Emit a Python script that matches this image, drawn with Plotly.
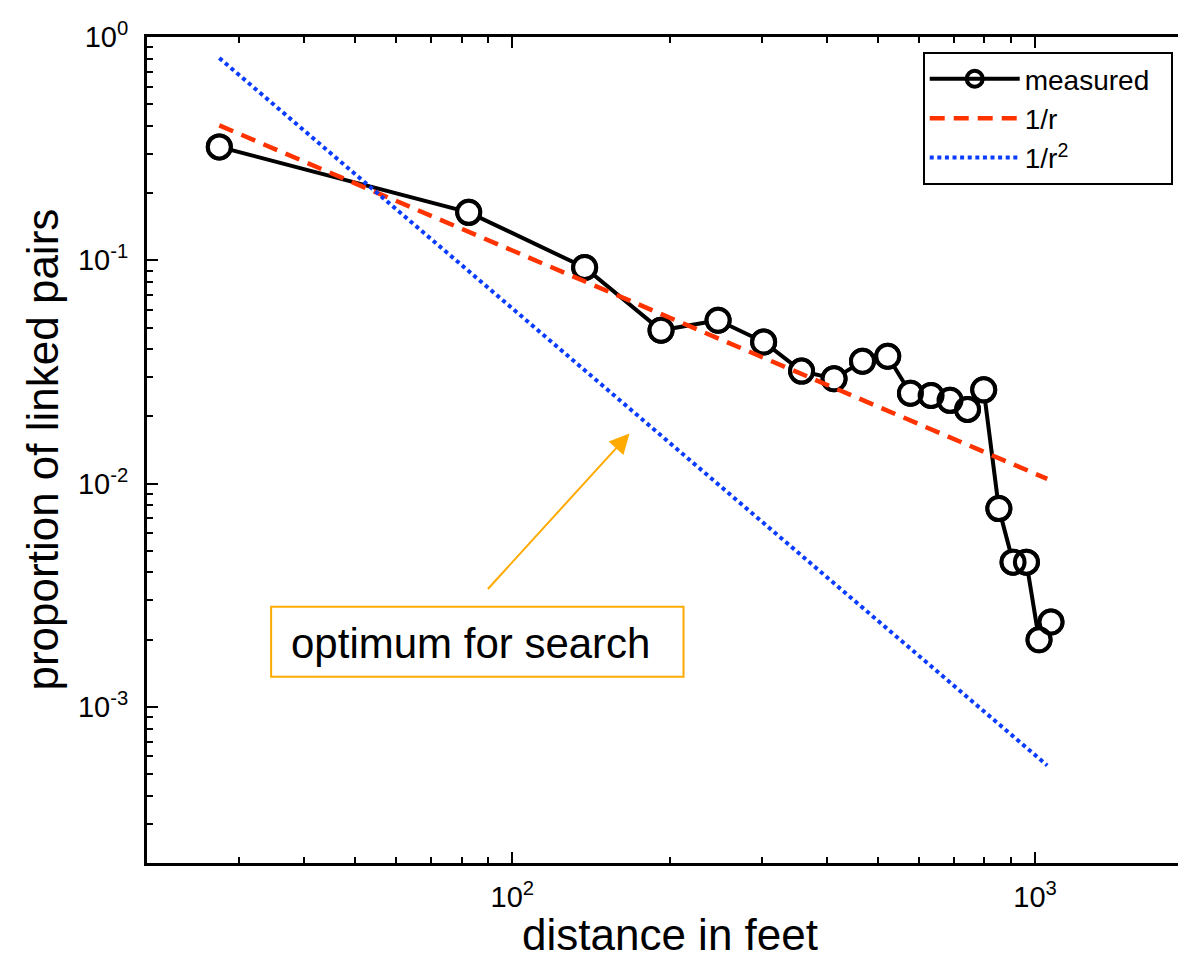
import math
import plotly.graph_objects as go

# Measured link proportion per 55-ft distance bin
distance_ft = [27.5, 82.5, 137.5, 192.5, 247.5, 302.5, 357.5, 412.5, 467.5, 522.5,
               577.5, 632.5, 687.5, 742.5, 797.5, 852.5, 907.5, 962.5, 1017.5, 1072.5]
proportion_linked = [0.322, 0.164, 0.0928, 0.0486, 0.0539, 0.0431, 0.0319, 0.0295, 0.0353, 0.0372,
                     0.0254, 0.0248, 0.0236, 0.0215, 0.0263, 0.00773, 0.00445, 0.00445, 0.00200, 0.00240]

# Reference power laws (end points of each straight line on log-log axes)
fit_distance = [27.5, 1055]
fit_inv_r = [0.402, 0.0105]
fit_inv_r2 = [0.805, 0.000547]

# Tick labels
x_major = [100, 1000]
x_major_text = ["10<sup>2</sup>", "10<sup>3</sup>"]
y_major = [1e-3, 1e-2, 1e-1, 1]
y_major_text = ["10<sup>-3</sup>", "10<sup>-2</sup>", "10<sup>-1</sup>", "10<sup>0</sup>"]
x_minor = [k * 10 ** e for e in (1, 2, 3) for k in range(2, 10)]
y_minor = [k * 10 ** e for e in (-4, -3, -2, -1) for k in range(2, 10)]

FONT = "Liberation Sans, Arial, Helvetica, sans-serif"
ORANGE = "#ffaa00"
RED = "#ff3300"
BLUE = "#0a3cff"

fig = go.Figure()

# measured: connecting line (legend entry), white discs hiding the line, then open rings
fig.add_trace(go.Scatter(
    x=distance_ft, y=proportion_linked, mode="lines+markers",
    name="measured\u00a0\u00a0",
    line=dict(color="black", width=4),
    marker=dict(symbol="circle-open", size=23, color="black", line=dict(width=4)),
    legendgroup="a",
))
fig.add_trace(go.Scatter(
    x=distance_ft, y=proportion_linked, mode="markers", showlegend=False,
    marker=dict(symbol="circle", size=23, color="white", line=dict(width=0)),
    hoverinfo="skip",
))
fig.add_trace(go.Scatter(
    x=distance_ft, y=proportion_linked, mode="markers", showlegend=False,
    marker=dict(symbol="circle-open", size=23, color="black", line=dict(width=4)),
    hoverinfo="skip",
))
fig.add_trace(go.Scatter(
    x=fit_distance, y=fit_inv_r, mode="lines", name="1/r",
    line=dict(color=RED, width=4.5, dash="15px,9px"), legendgroup="b",
))
fig.add_trace(go.Scatter(
    x=fit_distance, y=fit_inv_r2, mode="lines", name="1/r<sup>2</sup>",
    line=dict(color=BLUE, width=4, dash="4px,3.6px"), legendgroup="c",
))

axis_common = dict(
    type="log", showgrid=False, zeroline=False,
    showline=True, linecolor="black", linewidth=3,
    ticks="inside", ticklen=11, tickwidth=2, tickcolor="black",
    tickfont=dict(family=FONT, size=29, color="black"),
)

fig.update_layout(
    width=1178, height=966,
    margin=dict(l=147, r=0, t=37, b=103),
    paper_bgcolor="white", plot_bgcolor="white",
    font=dict(family=FONT, color="black"),
    xaxis=dict(
        **axis_common,
        range=[math.log10(20), 3.2734],
        mirror="ticks",
        tickvals=x_major, ticktext=x_major_text,
        ticklabelstandoff=6,
        minor=dict(tickvals=x_minor, ticks="inside", ticklen=6, tickwidth=2,
                   tickcolor="black", showgrid=False),
    ),
    yaxis=dict(
        **axis_common,
        range=[math.log10(2e-4), 0],
        mirror=False,
        tickvals=y_major, ticktext=y_major_text,
        ticklabelstandoff=10,
        minor=dict(tickvals=y_minor, ticks="inside", ticklen=6, tickwidth=2,
                   tickcolor="black", showgrid=False),
    ),
    legend=dict(
        x=0.7524, y=0.9818, xanchor="left", yanchor="top",
        bordercolor="black", borderwidth=2, bgcolor="white",
        font=dict(family=FONT, size=28, color="black"),
        itemwidth=90,
        tracegroupgap=0,
    ),
    showlegend=True,
)

# orange call-out box
fig.add_shape(type="rect", xref="paper", yref="paper",
              x0=0.1204, x1=0.5204, y0=0.2255, y1=0.3103,
              line=dict(color=ORANGE, width=2))

fig.add_annotation(
    xref="paper", yref="paper", x=0.3136, y=0.2655,
    text="optimum for search", showarrow=False,
    xanchor="center", yanchor="middle",
    font=dict(family=FONT, size=42, color="black"),
)
fig.add_annotation(
    xref="paper", yref="paper", x=0.468, y=0.52,
    text="", showarrow=True, ax=-143, ay=157,
    arrowcolor=ORANGE, arrowwidth=2, arrowhead=2, arrowsize=2, standoff=0,
)

# axis titles
fig.add_annotation(
    xref="paper", yref="paper", x=0.5068, y=-0.0861,
    text="distance in feet", showarrow=False,
    xanchor="center", yanchor="middle",
    font=dict(family=FONT, size=44, color="black"),
)
fig.add_annotation(
    xref="paper", yref="paper", x=-0.1023, y=0.5,
    text="proportion of linked pairs", showarrow=False, textangle=-90,
    xanchor="center", yanchor="middle",
    font=dict(family=FONT, size=44, color="black"),
)

fig.write_html("out.html")
